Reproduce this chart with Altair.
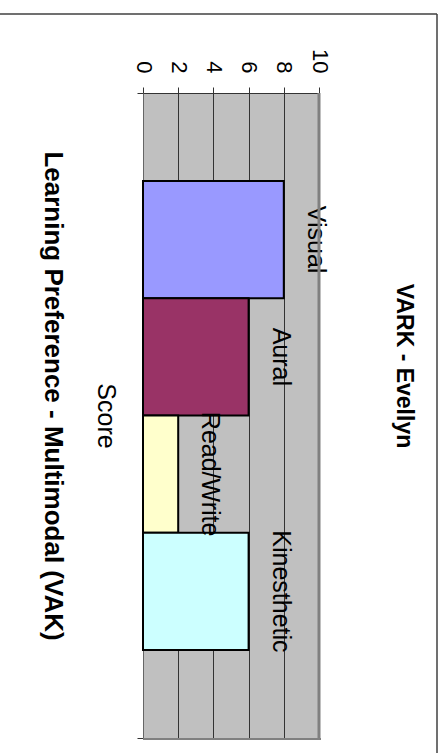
import altair as alt
import pandas as pd

# Learning-style scores (one category, four series)
styles = ["Visual", "Aural", "Read/Write", "Kinesthetic"]
scores = [8, 6, 2, 6]
fills = ["#9999FF", "#993366", "#FFFFCC", "#CCFFFF"]
category = "Score"
score_ticks = [0, 2, 4, 6, 8, 10]
score_max = 10
chart_title = "VARK - Evellyn"
axis_title = "Learning Preference - Multimodal (VAK)"

FONT = "Liberation Sans"
W, H = 176, 645
PAD = {"left": 143, "top": 93, "right": 126, "bottom": 15}

df = pd.DataFrame({"style": styles, "score": scores, "category": [category] * len(styles)})
edge_df = pd.DataFrame({"score": [score_max]})
one = pd.DataFrame({"k": [0]})

x_axis = alt.Axis(
    orient="top", values=score_ticks, grid=True, gridColor="#333333", gridWidth=1,
    domainColor="#333333", tickColor="#333333", tickSize=6,
    labelAngle=90, labelAlign="right", labelBaseline="middle", labelPadding=14,
    labelFontSize=22, labelFont=FONT, labelColor="#000000",
    labelFlush=False, labelOverlap=False, title=None,
)
x_scale = alt.Scale(domain=[0, score_max], nice=False, zero=True)
x_enc = alt.X("score:Q", scale=x_scale, axis=x_axis)

y_enc = alt.Y(
    "category:N",
    scale=alt.Scale(paddingInner=0, paddingOuter=0),
    axis=alt.Axis(
        orient="left", tickBand="extent", domainColor="#666666", tickColor="#333333",
        tickSize=6, labelAngle=90, labelAlign="center", labelBaseline="alphabetic",
        labelPadding=40, labelFontSize=25, labelFont=FONT, labelColor="#000000",
        title=None, grid=False,
    ),
)
y_off = alt.YOffset("style:N", sort=styles, scale=alt.Scale(paddingInner=0, paddingOuter=0.75))
color = alt.Color("style:N", sort=styles, scale=alt.Scale(domain=styles, range=fills), legend=None)

bars = alt.Chart(df).mark_bar(stroke="#000000", strokeWidth=2).encode(
    x=x_enc, y=y_enc, yOffset=y_off, color=color
)

# series names written just past the end of each bar
labels = alt.Chart(df).mark_text(
    angle=90, align="center", baseline="alphabetic", dy=-24,
    fontSize=25, font=FONT, color="#000000",
).encode(x=x_enc, y=y_enc, yOffset=y_off, text="style:N")

# plot-area shadow on the far edge and bottom
edge_right = alt.Chart(edge_df).mark_rule(color="#808080", strokeWidth=3).encode(
    x=x_enc, y=alt.value(0), y2=alt.value(H + 2)
)
edge_bottom = alt.Chart(one).mark_rule(color="#808080", strokeWidth=2).encode(
    x=alt.value(0), x2=alt.value(W + 2), y=alt.value(H + 1)
)

# chart-area border
frame_top = alt.Chart(one).mark_rule(color="#404040", strokeWidth=1.5).encode(
    x=alt.value(-PAD["left"]), x2=alt.value(294), y=alt.value(-79)
)
frame_right = alt.Chart(one).mark_rule(color="#404040", strokeWidth=1.5).encode(
    x=alt.value(294), y=alt.value(-79), y2=alt.value(H + PAD["bottom"])
)

title_df = pd.DataFrame({"t": [chart_title]})
axis_title_df = pd.DataFrame({"t": [axis_title]})

title_mark = alt.Chart(title_df).mark_text(
    angle=90, align="center", baseline="alphabetic", fontSize=23, fontWeight="bold",
    font=FONT, color="#000000",
).encode(x=alt.value(254), y=alt.value(273), text="t:N")

axis_title_mark = alt.Chart(axis_title_df).mark_text(
    angle=90, align="center", baseline="alphabetic", fontSize=26, fontWeight="bold",
    font=FONT, color="#000000",
).encode(x=alt.value(-98), y=alt.value(303), text="t:N")

chart = alt.layer(
    bars, labels, edge_right, edge_bottom, frame_top, frame_right, title_mark, axis_title_mark
).properties(
    width=W, height=H, padding=PAD, autosize=alt.AutoSizeParams(type="none"),
    background="#FFFFFF",
).configure_view(
    fill="#C0C0C0", stroke=None
)

chart.save("out.html", embed_options={"renderer": "svg", "actions": False})
